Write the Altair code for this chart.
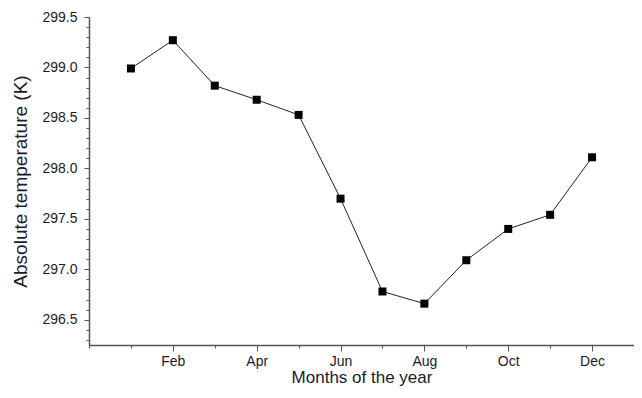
import altair as alt
import pandas as pd

months = [1, 2, 3, 4, 5, 6, 7, 8, 9, 10, 11, 12]
temps = [298.99, 299.27, 298.82, 298.68, 298.53, 297.70, 296.78, 296.66, 297.09, 297.40, 297.54, 298.11]
major_x = [2, 4, 6, 8, 10, 12]
major_names = ["Feb", "Apr", "Jun", "Aug", "Oct", "Dec"]
minor_x = [0, 1, 3, 5, 7, 9, 11, 13]
major_y = [296.5, 297.0, 297.5, 298.0, 298.5, 299.0, 299.5]
minor_y = [round(296.3 + 0.1 * i, 1) for i in range(33)]

df = pd.DataFrame({"month": months, "temp": temps})

FONT = "Liberation Sans"
TXT = "#1b1b2a"
AX = "#555555"

name_map = "{" + ",".join(f"'{v}':'{n}'" for v, n in zip(major_x, major_names)) + "}"

xscale = alt.Scale(domain=[0, 13], nice=False, zero=False)
yscale = alt.Scale(domain=[296.25, 299.5], nice=False, zero=False)

line = alt.Chart(df).mark_line(color="#222222", strokeWidth=1).encode(
    x=alt.X("month:Q", scale=xscale,
            axis=alt.Axis(orient="bottom", values=major_x, labelExpr=name_map + "[datum.value]",
                          title="Months of the year", titleFontSize=17, titleFont=FONT,
                          titleFontWeight="normal", titleColor=TXT, titlePadding=1,
                          labelFont=FONT, labelFontSize=14, labelColor=TXT, labelPadding=3,
                          tickSize=6, tickColor=AX, domainColor=AX, domainWidth=1.5,
                          grid=False, labelFlush=False)),
    y=alt.Y("temp:Q", scale=yscale,
            axis=alt.Axis(orient="left", values=major_y, format=".1f",
                          title="Absolute temperature (K)", titleFontSize=19, titleFont=FONT,
                          titleFontWeight="normal", titleColor=TXT, titlePadding=11,
                          labelFont=FONT, labelFontSize=14, labelColor=TXT, labelPadding=7,
                          tickSize=5, tickColor=AX, domainColor=AX, domainWidth=1.5,
                          grid=False, labelFlush=False)),
)

points = alt.Chart(df).mark_square(color="#000000", size=64, opacity=1).encode(
    x=alt.X("month:Q", scale=xscale,
            axis=alt.Axis(orient="bottom", values=minor_x, labels=False, title=None,
                          tickSize=3, tickColor=AX, domain=False, grid=False)),
    y=alt.Y("temp:Q", scale=yscale,
            axis=alt.Axis(orient="left", values=minor_y, labels=False, title=None,
                          tickSize=3, tickColor=AX, domain=False, grid=False)),
)

chart = alt.layer(line, points).resolve_axis(x="independent", y="independent").properties(
    width=545, height=328,
    autosize=alt.AutoSizeParams(type="none"),
    padding={"left": 81, "top": 9, "right": 0, "bottom": 45},
    background="white",
).configure_view(stroke=None)

chart.save("out.html", embed_options={"renderer": "svg", "actions": False})
